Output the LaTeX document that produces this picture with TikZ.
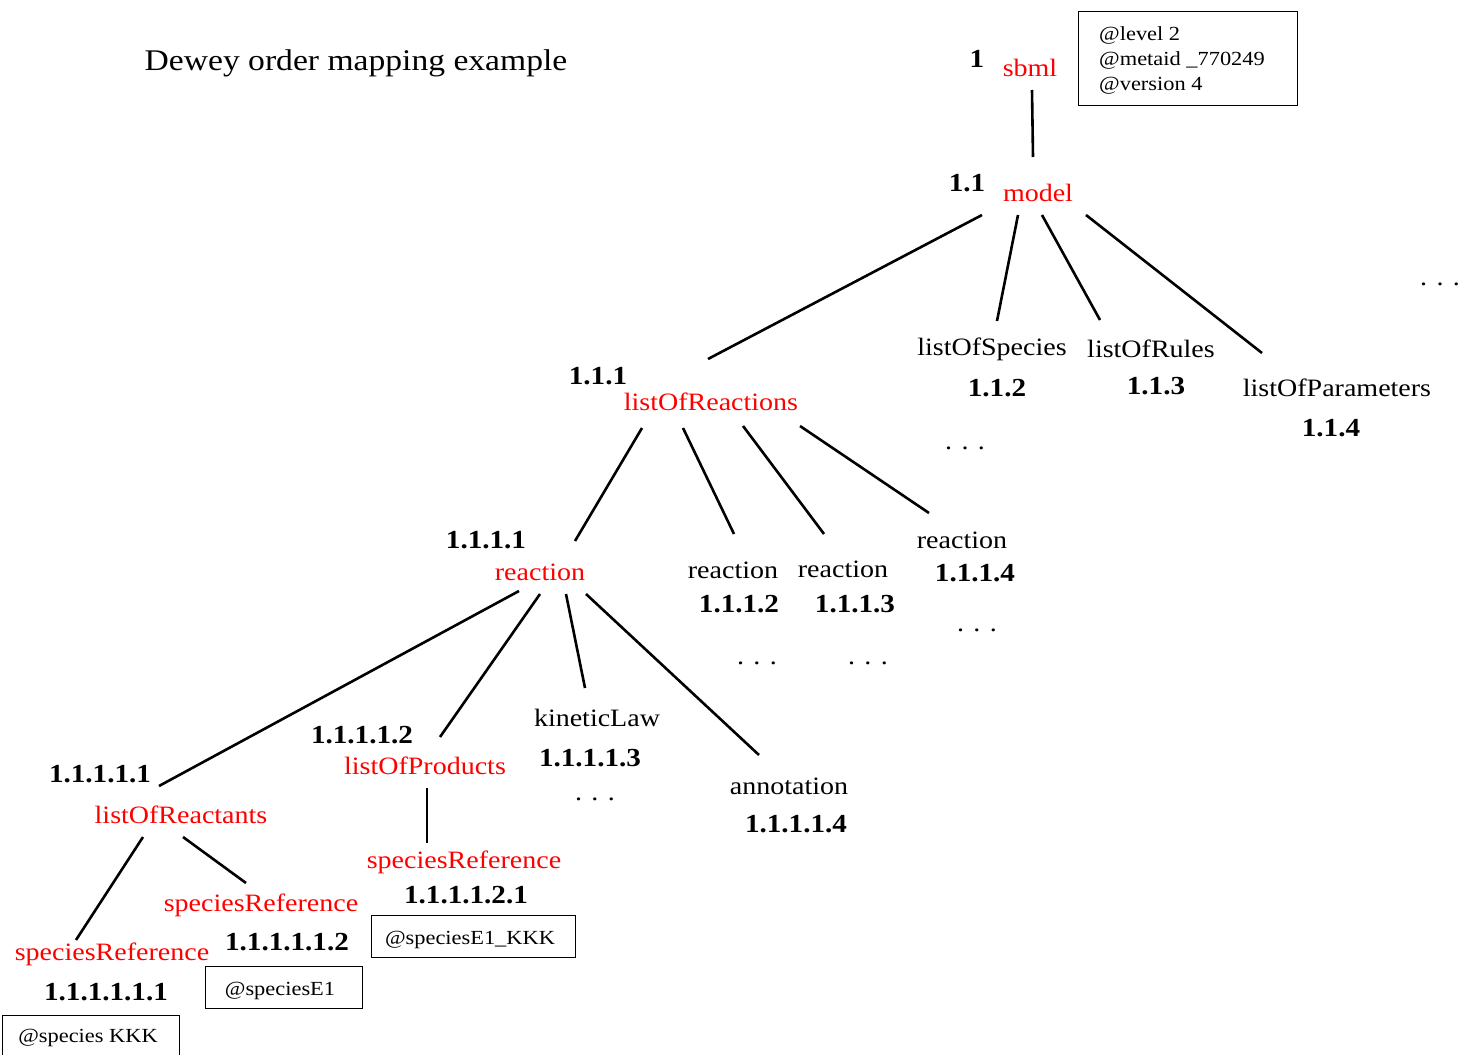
\documentclass[tikz,border=0pt]{standalone}
\usepackage{fontspec}
\setmainfont{Liberation Serif}[FakeStretch=1.12]
\definecolor{lblred}{RGB}{255,0,0}
\begin{document}
\begin{tikzpicture}[x=1pt,y=-1pt,
  elem/.style={text=lblred,font=\fontsize{25}{27}\selectfont,inner sep=0pt,yshift=-2pt},
  plain/.style={text=black,font=\fontsize{25}{27}\selectfont,inner sep=0pt,yshift=-2pt},
  num/.style={text=black,font=\fontsize{26}{28}\selectfont\bfseries,inner sep=0pt,yshift=-2pt},
  dots/.style={text=black,font=\fontsize{25}{27}\selectfont,inner sep=0pt,yshift=-3pt},
  attr/.style={draw,line width=1pt,inner sep=0pt},
  attrtext/.style={text=black,font=\fontsize{20}{24}\selectfont,inner sep=0pt},
  edge/.style={line width=2.6pt}]
\useasboundingbox (0,0) rectangle (1460,1055);
\fill[white] (0,0) rectangle (1460,1055);

\node[plain,font=\fontsize{30}{32}\selectfont] (title) at (356,61) {Dewey order mapping example};

% level 0
\node[num] (n1) at (977,57) {1};
\node[elem] (sbml) at (1030,66) {sbml};
\node[attr,minimum width=219,minimum height=94] (a1) at (1187.5,58) {};
\node[attrtext,font=\fontsize{20}{25}\selectfont,anchor=west,align=left,yshift=-1pt] (a1t) at (1099,59) {@level 2\\@metaid \_770249\\@version 4};

% level 1
\node[num] (n11) at (967,181) {1.1};
\node[elem] (model) at (1038,191) {model};

% level 2
\node[num] (n111) at (598,374) {1.1.1};
\node[elem] (lor) at (711,400) {listOfReactions};
\node[plain] (los) at (992,347) {listOfSpecies};
\node[num] (n112) at (997,386) {1.1.2};
\node[plain] (lru) at (1151,347) {listOfRules};
\node[num] (n113) at (1156,384) {1.1.3};
\node[plain] (lpa) at (1337,386) {listOfParameters};
\node[num] (n114) at (1331,426) {1.1.4};
\node[dots] (d0) at (1440,281) {. . .};
\node[dots] (d1) at (965,445) {. . .};

% level 3
\node[num] (n1111) at (486,538) {1.1.1.1};
\node[elem] (r1) at (540,570) {reaction};
\node[plain] (r2) at (733,568) {reaction};
\node[num] (n1112) at (739,602) {1.1.1.2};
\node[dots] (d2) at (757,660) {. . .};
\node[plain] (r3) at (843,567) {reaction};
\node[num] (n1113) at (855,602) {1.1.1.3};
\node[dots] (d3) at (868,660) {. . .};
\node[plain] (r4) at (962,538) {reaction};
\node[num] (n1114) at (975,571) {1.1.1.4};
\node[dots] (d4) at (977,627) {. . .};

% level 4
\node[num] (n11111) at (100,772) {1.1.1.1.1};
\node[elem] (lre) at (181,813) {listOfReactants};
\node[num] (n11112) at (362,733) {1.1.1.1.2};
\node[elem] (lpr) at (425,764) {listOfProducts};
\node[plain] (kl) at (597,716) {kineticLaw};
\node[num] (n11113) at (590,756) {1.1.1.1.3};
\node[dots] (d5) at (595,796) {. . .};
\node[plain] (ann) at (789,784) {annotation};
\node[num] (n11114) at (796,822) {1.1.1.1.4};

% level 5
\node[elem] (sr3) at (464,860) {speciesReference};
\node[num] (n111121) at (466,893) {1.1.1.1.2.1};
\node[attr,minimum width=204,minimum height=42] (b3) at (473,936) {};
\node[attrtext] (b3t) at (470,940) {@speciesE1\_KKK};
\node[elem] (sr2) at (261,903) {speciesReference};
\node[num] (n111112) at (287,940) {1.1.1.1.1.2};
\node[attr,minimum width=157,minimum height=42] (b2) at (283.5,987) {};
\node[attrtext] (b2t) at (280,991) {@speciesE1};
\node[elem] (sr1) at (112,952) {speciesReference};
\node[num] (n111111) at (106,990) {1.1.1.1.1.1};
\node[attr,minimum width=177,minimum height=46] (b1) at (90.5,1038) {};
\node[attrtext] (b1t) at (88,1038) {@species KKK};

% connector end points
\coordinate (e0a) at (1032,90);   \coordinate (e0b) at (1033,157);
\coordinate (e1a) at (982,215);   \coordinate (e1b) at (708,359);
\coordinate (e2a) at (1018,215);  \coordinate (e2b) at (997,321);
\coordinate (e3a) at (1042,215);  \coordinate (e3b) at (1100,320);
\coordinate (e4a) at (1086,215);  \coordinate (e4b) at (1262,353);
\coordinate (f1a) at (642,428);   \coordinate (f1b) at (575,541);
\coordinate (f2a) at (683,428);   \coordinate (f2b) at (734,534);
\coordinate (f3a) at (743,426);   \coordinate (f3b) at (824,534);
\coordinate (f4a) at (800,426);   \coordinate (f4b) at (929,513);
\coordinate (g1a) at (519,591);   \coordinate (g1b) at (159,786);
\coordinate (g2a) at (540,594);   \coordinate (g2b) at (440,737);
\coordinate (g3a) at (566,594);   \coordinate (g3b) at (585,688);
\coordinate (g4a) at (586,594);   \coordinate (g4b) at (759,755);
\coordinate (h1a) at (143,837);   \coordinate (h1b) at (76,940);
\coordinate (h2a) at (183,837);   \coordinate (h2b) at (246,883);
\coordinate (h3a) at (427,788);   \coordinate (h3b) at (427,843);

\foreach \s/\t in {e0a/e0b,e1a/e1b,e2a/e2b,e3a/e3b,e4a/e4b,f1a/f1b,f2a/f2b,f3a/f3b,f4a/f4b,g1a/g1b,g2a/g2b,g3a/g3b,g4a/g4b,h1a/h1b,h2a/h2b,h3a/h3b}
  \draw[edge] (\s) -- (\t);
\end{tikzpicture}
\end{document}
